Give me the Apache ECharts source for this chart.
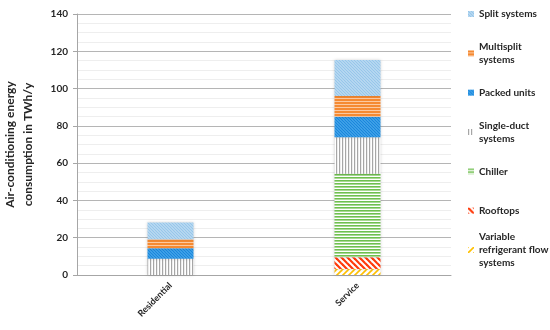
<!DOCTYPE html>
<html>
<head>
<meta charset="utf-8">
<script src="https://cdn.jsdelivr.net/npm/echarts@6/dist/echarts.min.js"></script>
<style>html,body{margin:0;padding:0;background:#fff;}#c{width:550px;height:330px;}</style>
</head>
<body>
<div id="c"></div>
<script>
// ---- data ----
var categories = ['Residential', 'Service'];
var seriesNames = ['Variable refrigerant flow systems', 'Rooftops', 'Chiller', 'Single-duct systems', 'Packed units', 'Multisplit systems', 'Split systems'];
var vrf        = [0, 3.2];
var rooftops   = [0, 6.3];
var chiller    = [0, 44.8];
var singleDuct = [8.7, 19.6];
var packed     = [5.6, 11.0];
var multisplit = [4.9, 11.1];
var split      = [8.9, 19.3];
var yTicks = [0, 20, 40, 60, 80, 100, 120, 140];

// ---- patterns ----
function makeCanvas(w, h, draw) {
  var c = document.createElement('canvas');
  c.width = w; c.height = h;
  var ctx = c.getContext('2d');
  draw(ctx, w, h);
  return c;
}
function diag(bg, fg, size, lw, dir) {
  return makeCanvas(size, size, function (ctx, w, h) {
    ctx.fillStyle = bg; ctx.fillRect(0, 0, w, h);
    ctx.strokeStyle = fg; ctx.lineWidth = lw;
    for (var k = -1; k <= 1; k++) {
      ctx.beginPath();
      if (dir > 0) { ctx.moveTo(k * w - 1, -1); ctx.lineTo(k * w + w + 1, h + 1); }
      else { ctx.moveTo(k * w - 1, h + 1); ctx.lineTo(k * w + w + 1, -1); }
      ctx.stroke();
    }
  });
}
function stripesH(bg, fg, size, lw) {
  return makeCanvas(4, size, function (ctx, w, h) {
    ctx.fillStyle = bg; ctx.fillRect(0, 0, w, h);
    ctx.fillStyle = fg; ctx.fillRect(0, 0, w, lw);
  });
}
function stripesV(bg, fg, size, lw) {
  return makeCanvas(size, 4, function (ctx, w, h) {
    ctx.fillStyle = bg; ctx.fillRect(0, 0, w, h);
    ctx.fillStyle = fg; ctx.fillRect(0, 0, lw, h);
  });
}
function pat(c) { return { image: c, repeat: 'repeat' }; }

var colors = [
  pat(diag('#ffffff', '#ffc000', 6, 1.6, -1)),     // VRF
  pat(diag('#ffffff', '#ff3a0a', 6, 2.2, 1)),      // Rooftops
  pat(stripesH('#ffffff', '#6fc04f', 3, 1.6)),     // Chiller
  pat(stripesV('#ffffff', '#a6a6a6', 3, 1.2)),     // Single-duct
  pat(diag('#59b4f0', '#1a86dc', 3, 1.3, 1)),      // Packed units
  pat(stripesH('#fcc9a0', '#f58a32', 3, 2)),       // Multisplit
  pat(diag('#cde4f5', '#97c6ea', 3, 1.3, 1))       // Split
];
var dataArrays = [vrf, rooftops, chiller, singleDuct, packed, multisplit, split];

var font = 'Lato, "Open Sans", sans-serif';
var series = seriesNames.map(function (n, i) {
  return {
    name: n, type: 'bar', stack: 'total', barWidth: 46,
    data: dataArrays[i],
    itemStyle: { color: colors[i], shadowBlur: 3, shadowColor: 'rgba(0,0,0,0.18)' },
    emphasis: { disabled: true }
  };
});

// legend: first line of each entry evenly spaced
var legendLabels = {
  'Split systems': 'Split systems',
  'Multisplit systems': 'Multisplit\nsystems',
  'Packed units': 'Packed units',
  'Single-duct systems': 'Single-duct\nsystems',
  'Chiller': 'Chiller',
  'Rooftops': 'Rooftops',
  'Variable refrigerant flow systems': 'Variable\nrefrigerant flow\nsystems'
};
var legendOrder = ['Split systems', 'Multisplit systems', 'Packed units', 'Single-duct systems', 'Chiller', 'Rooftops', 'Variable refrigerant flow systems'];
var L = 13.3;
var legends = legendOrder.map(function (n, i) {
  var c = 14 + i * 39.33;
  var lines = legendLabels[n].split('\n').length;
  var t = (lines - 1) * L;
  var top = c - ((2 * lines - 1) * L) / 2;
  return {
    data: [n], orient: 'vertical', left: 468, top: top, padding: 0,
    itemWidth: 6, itemHeight: 6, itemGap: 0, icon: 'rect', selectedMode: false,
    formatter: function (name) { return legendLabels[name]; },
    textStyle: { fontFamily: font, fontWeight: 'bold', fontSize: 10, color: '#262626', lineHeight: L, padding: [t, 0, 0, 0] }
  };
});

var chart = echarts.init(document.getElementById('c'), null, { renderer: 'canvas' });
chart.setOption({
  animation: false,
  backgroundColor: '#ffffff',
  grid: { left: 77, right: 99, top: 14, bottom: 55, containLabel: false, outerBoundsMode: 'none' },
  legend: legends,
  xAxis: {
    type: 'category', data: categories,
    axisLine: { lineStyle: { color: '#a6a6a6', width: 1 } },
    axisTick: { show: false },
    axisLabel: { rotate: 45, margin: 9, fontFamily: font, fontWeight: 'bold', fontSize: 9, color: '#262626' }
  },
  yAxis: {
    type: 'value', min: 0, max: 140, interval: 20,
    name: 'Air-conditioning energy\nconsumption in TWh/y',
    nameLocation: 'middle', nameGap: 40,
    nameTextStyle: { fontFamily: font, fontWeight: 'bold', fontSize: 12, color: '#262626', lineHeight: 18 },
    axisLine: { show: true, lineStyle: { color: '#a6a6a6', width: 1 } },
    axisTick: { show: true, length: 4, lineStyle: { color: '#a6a6a6' } },
    axisLabel: {
      margin: 9, fontFamily: font, fontWeight: 'bold', fontSize: 10, color: '#262626',
      formatter: function (v) { return yTicks.indexOf(v) >= 0 ? String(v) : ''; }
    },
    splitLine: { lineStyle: { color: '#b5b5b5', width: 1 } },
    minorTick: { show: false, splitNumber: 4 },
    minorSplitLine: { show: true, lineStyle: { color: '#eeeeee', width: 1 } }
  },
  series: series
});
</script>
</body>
</html>
